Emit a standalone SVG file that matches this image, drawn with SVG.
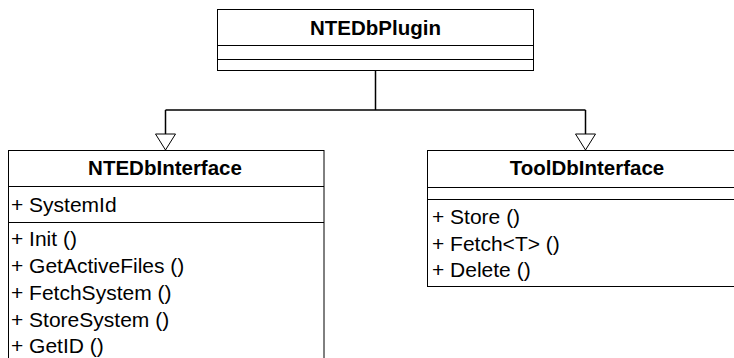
<svg xmlns="http://www.w3.org/2000/svg" width="734" height="358" viewBox="0 0 734 358">
  <style>
    .box { fill: #ffffff; stroke: #000000; stroke-width: 1; }
    .sep { stroke: #000000; stroke-width: 1; }
    .title { font-family: "Liberation Sans", Arial, sans-serif; font-size: 20.5px; font-weight: bold; text-anchor: middle; fill: #000000; }
    .member { font-family: "Liberation Sans", Arial, sans-serif; font-size: 21px; fill: #000000; }
    .link { fill: none; stroke: #000000; stroke-width: 1.5; }
    .head { fill: #ffffff; stroke: #000000; stroke-width: 1; }
  </style>
  <rect width="734" height="358" fill="#ffffff"/>

  <!-- generalization connectors -->
  <g id="connectors">
    <path class="link" d="M375.5 70.5 V110 M165.5 110 H585.5 M165.5 110 V134 M585.5 110 V134"/>
    <polygon class="head" points="155.5,134 175.5,134 165.5,150"/>
    <polygon class="head" points="575.5,134 595.5,134 585.5,150"/>
  </g>

  <!-- base class -->
  <g id="NTEDbPlugin">
    <rect class="box" x="217.5" y="9.5" width="316" height="61"/>
    <line class="sep" x1="217.5" y1="45.5" x2="533.5" y2="45.5"/>
    <line class="sep" x1="217.5" y1="59.5" x2="533.5" y2="59.5"/>
    <text class="title" x="375.5" y="35">NTEDbPlugin</text>
  </g>

  <!-- left subclass -->
  <g id="NTEDbInterface">
    <rect class="box" x="8.5" y="150.5" width="315.5" height="230"/>
    <line class="sep" x1="8.5" y1="186.5" x2="324" y2="186.5"/>
    <line class="sep" x1="8.5" y1="222.5" x2="324" y2="222.5"/>
    <text class="title" x="165" y="175">NTEDbInterface</text>
    <text class="member" x="11" y="212">+ SystemId</text>
    <text class="member" x="11" y="246">+ Init ()</text>
    <text class="member" x="11" y="273">+ GetActiveFiles ()</text>
    <text class="member" x="11" y="300">+ FetchSystem ()</text>
    <text class="member" x="11" y="327">+ StoreSystem ()</text>
    <text class="member" x="11" y="353">+ GetID ()</text>
  </g>

  <!-- right subclass -->
  <g id="ToolDbInterface">
    <rect class="box" x="427.5" y="150.5" width="320" height="136"/>
    <line class="sep" x1="427.5" y1="187.5" x2="747.5" y2="187.5"/>
    <line class="sep" x1="427.5" y1="199.5" x2="747.5" y2="199.5"/>
    <text class="title" x="587" y="175">ToolDbInterface</text>
    <text class="member" x="432" y="224">+ Store ()</text>
    <text class="member" x="432" y="250.5">+ Fetch&lt;T&gt; ()</text>
    <text class="member" x="432" y="277">+ Delete ()</text>
  </g>
</svg>
